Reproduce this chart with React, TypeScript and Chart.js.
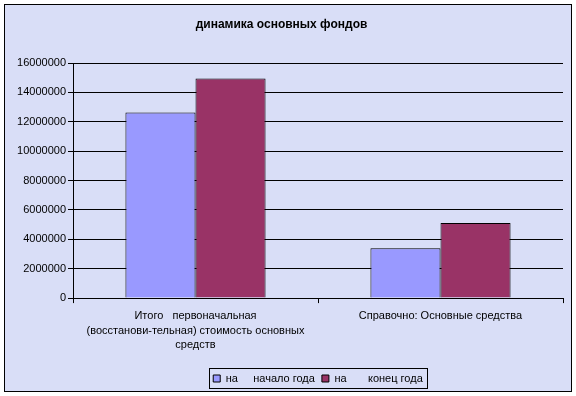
import React, { useEffect, useRef } from 'react';
import { Chart, registerables } from 'chart.js';

Chart.register(...registerables);

const chartTitle = 'динамика основных фондов';
const categories: (string | string[])[] = [
  ['Итого   первоначальная', '(восстанови-тельная) стоимость основных', 'средств'],
  'Справочно: Основные средства',
];
const seriesNames = ['на     начало года', 'на       конец года'];
const startOfYear = [12630000, 3400000];
const endOfYear = [14950000, 5110000];
const yMin = 0;
const yMax = 16000000;
const yStep = 2000000;

const FONT = "'Liberation Sans', Arial, sans-serif";
const BG = '#D9DEF7';
const BLUE = '#9999FF';
const PLUM = '#993366';

const framePlugin = {
  id: 'frame',
  beforeDraw(chart: any) {
    const { ctx, width, height } = chart;
    ctx.save();
    ctx.fillStyle = '#ffffff';
    ctx.fillRect(0, 0, width, height);
    ctx.fillStyle = BG;
    ctx.fillRect(4, 4, width - 8, height - 8);
    ctx.strokeStyle = '#000';
    ctx.lineWidth = 1;
    ctx.strokeRect(4.5, 4.5, width - 9, height - 9);
    ctx.restore();
  },
  afterDraw(chart: any) {
    const lg = chart.legend;
    if (!lg || !lg.legendHitBoxes || !lg.legendHitBoxes.length) return;
    const hb = lg.legendHitBoxes;
    let l = Infinity, r = -Infinity, t = Infinity, b = -Infinity;
    hb.forEach((h: any) => {
      l = Math.min(l, h.left);
      r = Math.max(r, h.left + h.width);
      t = Math.min(t, h.top);
      b = Math.max(b, h.top + h.height);
    });
    const ctx = chart.ctx;
    ctx.save();
    ctx.strokeStyle = '#000';
    ctx.lineWidth = 1;
    const x0 = Math.round(l - 4) + 0.5;
    const x1 = Math.round(r + 4) + 0.5;
    const y0 = Math.round(t - 5) + 0.5;
    const y1 = Math.round(b + 4) + 0.5;
    ctx.strokeRect(x0, y0, x1 - x0, y1 - y0);
    ctx.restore();
  },
};

export default function App() {
  const ref = useRef<HTMLCanvasElement>(null);
  useEffect(() => {
    document.body.style.margin = '0';
    const canvas = ref.current!;
    const chart = new Chart(canvas, {
      type: 'bar',
      data: {
        labels: categories,
        datasets: [
          {
            label: seriesNames[0],
            data: startOfYear,
            backgroundColor: BLUE,
            borderColor: '#000',
            borderWidth: 1,
            categoryPercentage: 0.572,
            barPercentage: 1,
          },
          {
            label: seriesNames[1],
            data: endOfYear,
            backgroundColor: PLUM,
            borderColor: '#000',
            borderWidth: 1,
            categoryPercentage: 0.572,
            barPercentage: 1,
          },
        ],
      },
      options: {
        responsive: false,
        animation: false,
        devicePixelRatio: 1,
        layout: { padding: { left: 0, right: 13, top: 0, bottom: 2 } },
        plugins: {
          title: {
            display: true,
            text: chartTitle,
            color: '#000',
            font: { family: FONT, size: 12, weight: 'bold' },
            padding: { top: 17, bottom: 31.6 },
          },
          legend: {
            display: true,
            position: 'bottom',
            fullSize: false,
            labels: {
              color: '#000',
              font: { family: FONT, size: 11 },
              boxWidth: 7,
              boxHeight: 7,
              padding: 7,
            },
          },
          tooltip: { enabled: false },
        },
        scales: {
          x: {
            afterFit(scale: any) {
              scale.height += 8;
            },
            grid: {
              offset: true,
              drawOnChartArea: false,
              drawTicks: true,
              tickLength: 5,
              color: '#000',
              tickColor: '#000',
            },
            border: { display: true, color: '#000' },
            ticks: {
              color: '#000',
              font: { family: FONT, size: 11, lineHeight: 1.3 },
              maxRotation: 0,
              minRotation: 0,
              autoSkip: false,
              padding: 6,
            },
          },
          y: {
            min: yMin,
            max: yMax,
            afterFit(scale: any) {
              scale.width = 73;
            },
            grid: {
              color: '#000',
              tickColor: '#000',
              tickLength: 5,
              drawTicks: true,
            },
            border: { display: true, color: '#000' },
            ticks: {
              stepSize: yStep,
              color: '#000',
              font: { family: FONT, size: 11 },
              padding: 2,
              callback: (v: any) => String(v),
            },
          },
        },
      },
      plugins: [framePlugin],
    } as any);
    return () => chart.destroy();
  }, []);
  return <canvas ref={ref} width={576} height={396} style={{ display: 'block' }} />;
}
